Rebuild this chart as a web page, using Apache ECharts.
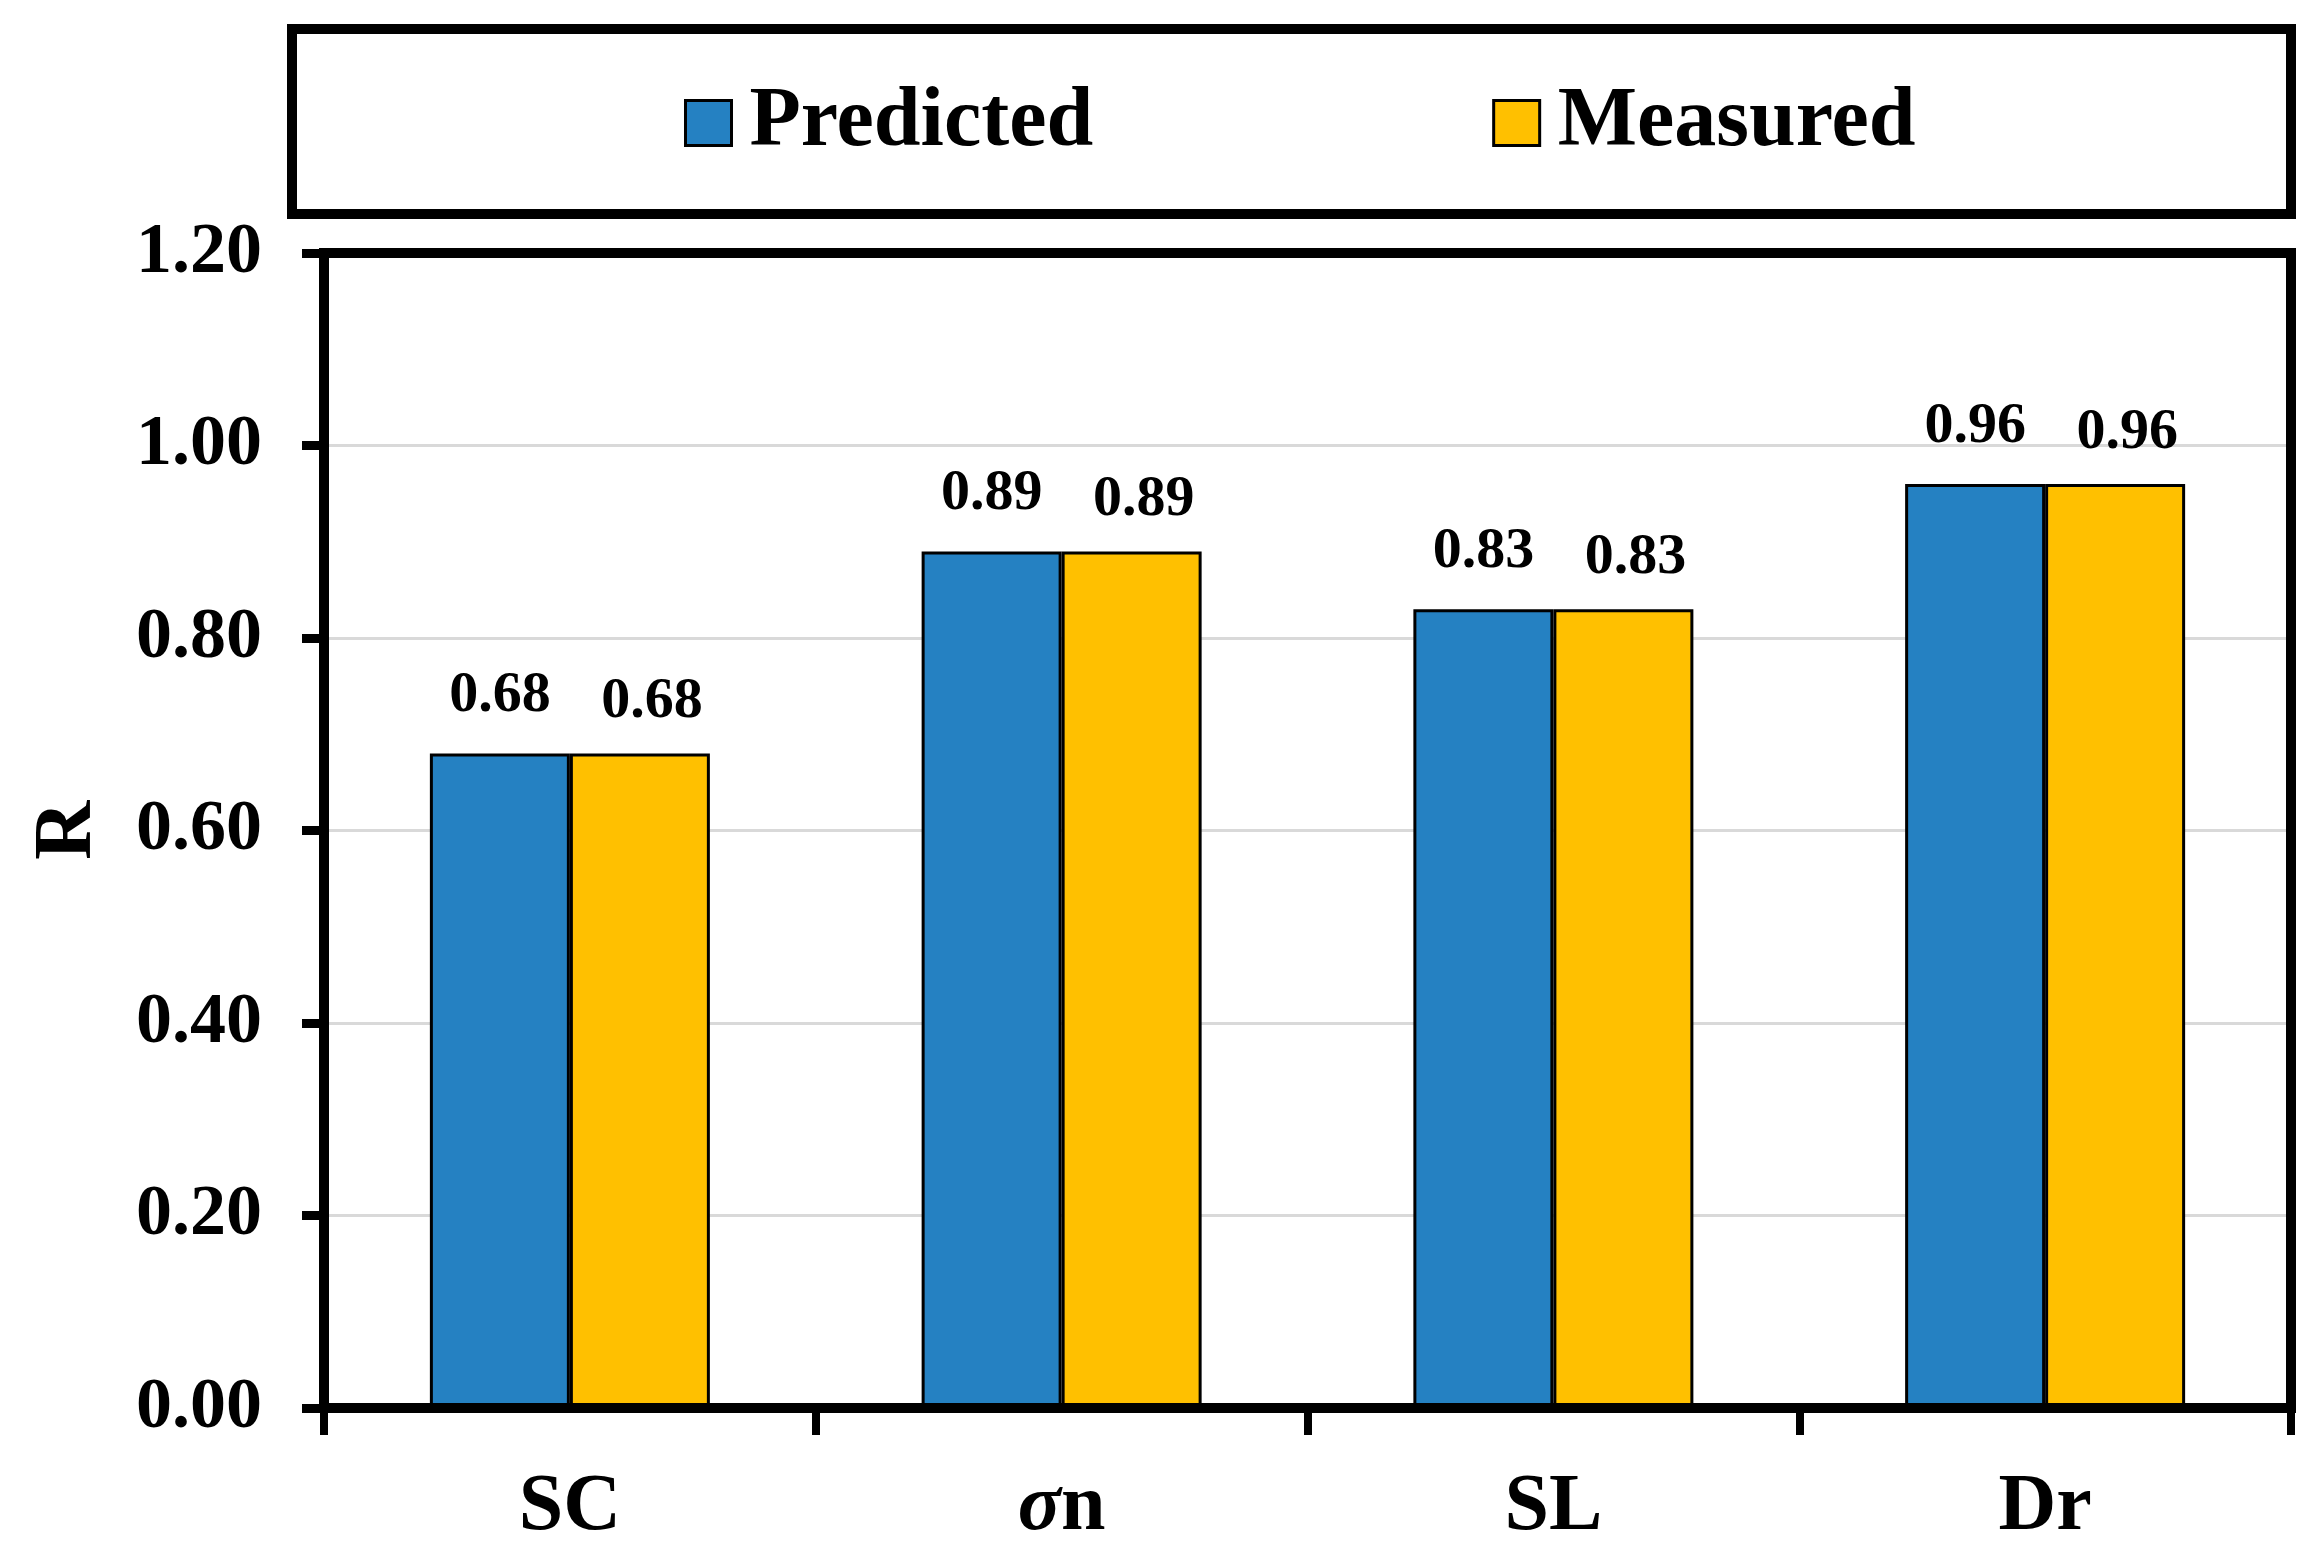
<!DOCTYPE html>
<html>
<head>
<meta charset="utf-8">
<script src="https://cdn.jsdelivr.net/npm/echarts@6/dist/echarts.min.js"></script>
<style>
html,body{margin:0;padding:0;background:#fff;}
#c{width:2322px;height:1550px;}
</style>
</head>
<body>
<div id="c"></div>
<script>
const categories = ['SC', 'σn', 'SL', 'Dr'];
const predicted = [0.68, 0.89, 0.83, 0.96];
const measured = [0.68, 0.89, 0.83, 0.96];
const seriesNames = ['Predicted', 'Measured'];
const yTicks = { min: 0, max: 1.2, interval: 0.2 };

const FONT = '"Liberation Serif", "Times New Roman", serif';
const chart = echarts.init(document.getElementById('c'), null, { renderer: 'canvas' });

const GRID = { left: 324, right: 31, top: 253, bottom: 142 };
const W = 2322, H = 1550;

const labelStyle = {
  show: true,
  position: 'top',
  distance: 28,
  fontFamily: FONT,
  fontWeight: 'bold',
  fontSize: 58,
  color: '#000',
  formatter: p => p.value.toFixed(2)
};

chart.setOption({
  animation: false,
  backgroundColor: '#fff',
  graphic: [
    {
      type: 'rect',
      shape: { x: 292, y: 29, width: 1999, height: 185 },
      style: { fill: 'none', stroke: '#000', lineWidth: 10 },
      z: 10
    },
    {
      type: 'rect',
      shape: { x: GRID.left, y: GRID.top, width: W - GRID.left - GRID.right, height: H - GRID.top - GRID.bottom },
      style: { fill: 'none', stroke: '#000', lineWidth: 10 },
      z: 100
    }
  ],
  legend: {
    data: seriesNames,
    left: 679,
    top: 76,
    icon: 'rect',
    itemWidth: 46,
    itemHeight: 45,
    itemGap: 399,
    itemStyle: { borderColor: '#000', borderWidth: 3 },
    textStyle: { fontFamily: FONT, fontWeight: 'bold', fontSize: 84, color: '#000', lineHeight: 84, padding: [0, 0, 0, 13] }
  },
  grid: GRID,
  xAxis: {
    type: 'category',
    data: categories,
    boundaryGap: true,
    axisLine: { lineStyle: { color: '#000', width: 10 } },
    axisTick: { show: true, length: 27, lineStyle: { color: '#000', width: 8 } },
    axisLabel: {
      margin: 60,
      fontFamily: FONT, fontWeight: 'bold', fontSize: 80, color: '#000',
      formatter: v => v.replace('σ', '{s|σ}'),
      rich: { s: { fontFamily: FONT, fontStyle: 'italic', fontWeight: 'bold', fontSize: 80, color: '#000' } }
    }
  },
  yAxis: {
    type: 'value',
    min: yTicks.min, max: yTicks.max, interval: yTicks.interval,
    name: 'R',
    nameLocation: 'middle',
    nameGap: 214,
    nameRotate: 90,
    nameTextStyle: { fontFamily: FONT, fontWeight: 'bold', fontSize: 82, color: '#000' },
    axisLine: { show: true, lineStyle: { color: '#000', width: 10 } },
    axisTick: { show: true, length: 22, lineStyle: { color: '#000', width: 9 } },
    axisLabel: {
      margin: 62,
      fontFamily: FONT, fontWeight: 'bold', fontSize: 72, color: '#000',
      formatter: v => v.toFixed(2)
    },
    splitLine: { show: true, showMaxLine: false, lineStyle: { color: '#d9d9d9', width: 3 } }
  },
  series: [
    {
      name: seriesNames[0], type: 'bar', data: predicted,
      barWidth: 140, barGap: '0%',
      itemStyle: { color: '#2581C2', borderColor: '#000', borderWidth: 3 },
      label: Object.assign({}, labelStyle)
    },
    {
      name: seriesNames[1], type: 'bar', data: measured,
      barWidth: 140, barGap: '0%',
      itemStyle: { color: '#FFC000', borderColor: '#000', borderWidth: 3 },
      label: Object.assign({}, labelStyle, { offset: [12, 6] })
    }
  ]
});
</script>
</body>
</html>
